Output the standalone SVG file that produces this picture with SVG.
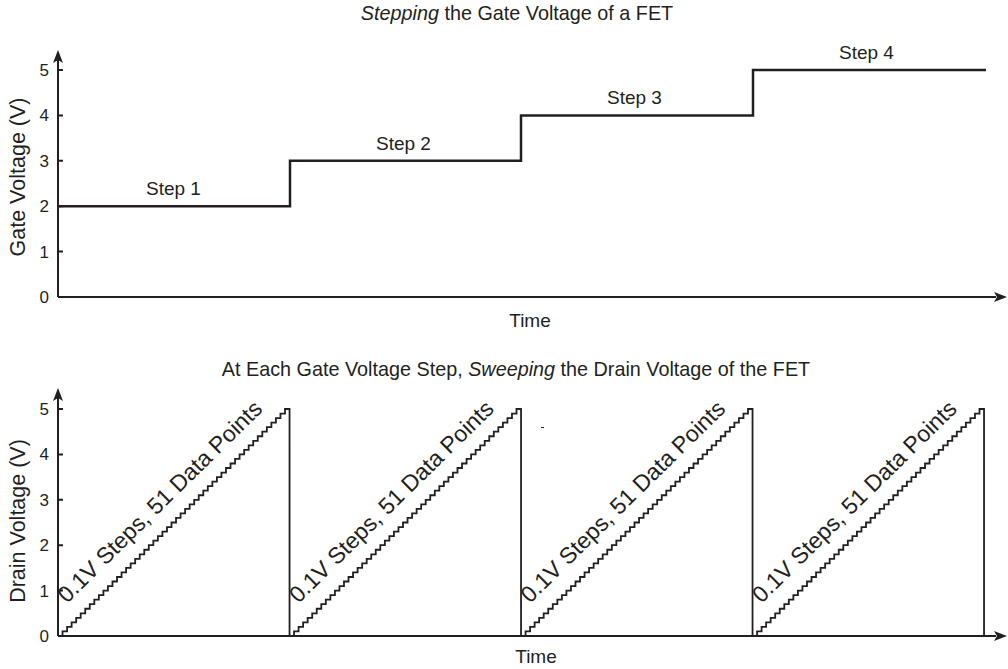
<svg xmlns="http://www.w3.org/2000/svg" xmlns:xlink="http://www.w3.org/1999/xlink" width="1008" height="669" viewBox="0 0 1008 669">
<style>
text{font-family:"Liberation Sans",Arial,sans-serif;fill:#231f20}
.tick{font-size:17px;text-anchor:end}
.lbl{font-size:19px}
.title{font-size:19.8px;text-anchor:middle}
.axlbl{font-size:21.5px;text-anchor:middle}
.diag{font-size:23px}
.axis{stroke:#231f20;stroke-width:2;fill:none}
.tk{stroke:#231f20;stroke-width:2}
.step{stroke:#231f20;stroke-width:2.5;fill:none}
.saw{stroke:#231f20;stroke-width:1.8;fill:none}
.head{fill:#231f20}
</style>
<defs>
<path id="saw" class="saw" d="M0,0 h4.54v-4.54h4.54v-4.54h4.54v-4.54h4.54v-4.54h4.54v-4.54h4.54v-4.54h4.54v-4.54h4.54v-4.54h4.54v-4.54h4.54v-4.54 h4.54v-4.54h4.54v-4.54h4.54v-4.54h4.54v-4.54h4.54v-4.54h4.54v-4.54h4.54v-4.54h4.54v-4.54h4.54v-4.54h4.54v-4.54 h4.54v-4.54h4.54v-4.54h4.54v-4.54h4.54v-4.54h4.54v-4.54h4.54v-4.54h4.54v-4.54h4.54v-4.54h4.54v-4.54h4.54v-4.54 h4.54v-4.54h4.54v-4.54h4.54v-4.54h4.54v-4.54h4.54v-4.54h4.54v-4.54h4.54v-4.54h4.54v-4.54h4.54v-4.54h4.54v-4.54 h4.54v-4.54h4.54v-4.54h4.54v-4.54h4.54v-4.54h4.54v-4.54h4.54v-4.54h4.54v-4.54h4.54v-4.54h4.54v-4.54h4.54v-4.54 h4.54 V0"/>
</defs>

<!-- Top chart -->
<g id="top-chart">
  <text x="517" y="20" class="title"><tspan font-style="italic">Stepping</tspan> the Gate Voltage of a FET</text>
  <g id="top-axes">
    <path class="axis" d="M58,297 V60 M58,297 H996"/>
    <path class="head" d="M58,50 L63,63 L58,60 L53,63 Z"/>
    <path class="head" d="M1007,297 L994,302 L997,297 L994,292 Z"/>
    <path class="tk" d="M58,70 h5 M58,115.4 h5 M58,160.8 h5 M58,206.2 h5 M58,251.6 h5"/>
    <text x="49" y="76" class="tick">5</text>
    <text x="49" y="121" class="tick">4</text>
    <text x="49" y="167" class="tick">3</text>
    <text x="49" y="212" class="tick">2</text>
    <text x="49" y="258" class="tick">1</text>
    <text x="49" y="303" class="tick">0</text>
    <text transform="translate(25,177) rotate(-90)" class="axlbl">Gate Voltage (V)</text>
    <text x="530" y="327" class="lbl" text-anchor="middle">Time</text>
  </g>
  <path id="gate-steps" class="step" d="M58,206.2 H290 V160.8 H521 V115.4 H753 V70 H986"/>
  <text x="146" y="195" class="lbl">Step 1</text>
  <text x="376" y="150" class="lbl">Step 2</text>
  <text x="607" y="104" class="lbl">Step 3</text>
  <text x="839" y="59" class="lbl">Step 4</text>
</g>

<!-- Bottom chart -->
<g id="bottom-chart">
  <text x="516" y="376" class="title">At Each Gate Voltage Step, <tspan font-style="italic">Sweeping</tspan> the Drain Voltage of the FET</text>
  <g id="bottom-axes">
    <path class="axis" d="M58,636 V398 M58,636 H996"/>
    <path class="head" d="M58,388 L63,401 L58,398 L53,401 Z"/>
    <path class="head" d="M1007,636 L994,641 L997,636 L994,631 Z"/>
    <path class="tk" d="M58,409 h5 M58,454.4 h5 M58,499.8 h5 M58,545.2 h5 M58,590.6 h5"/>
    <text x="49" y="415" class="tick">5</text>
    <text x="49" y="460" class="tick">4</text>
    <text x="49" y="506" class="tick">3</text>
    <text x="49" y="551" class="tick">2</text>
    <text x="49" y="597" class="tick">1</text>
    <text x="49" y="642" class="tick">0</text>
    <text transform="translate(25,521) rotate(-90)" class="axlbl">Drain Voltage (V)</text>
    <text x="536" y="663" class="lbl" text-anchor="middle">Time</text>
  </g>
  <g id="sweep-1">
    <use xlink:href="#saw" transform="translate(58,636)"/>
    <text transform="translate(67,604) rotate(-44.6)" class="diag">0.1V Steps, 51 Data Points</text>
  </g>
  <g id="sweep-2">
    <use xlink:href="#saw" transform="translate(289.5,636)"/>
    <text transform="translate(298.5,604) rotate(-44.6)" class="diag">0.1V Steps, 51 Data Points</text>
  </g>
  <g id="sweep-3">
    <use xlink:href="#saw" transform="translate(521,636)"/>
    <text transform="translate(530,604) rotate(-44.6)" class="diag">0.1V Steps, 51 Data Points</text>
  </g>
  <g id="sweep-4">
    <use xlink:href="#saw" transform="translate(752.5,636)"/>
    <text transform="translate(761.5,604) rotate(-44.6)" class="diag">0.1V Steps, 51 Data Points</text>
  </g>
  <path d="M541,427.5 h3" stroke="#231f20" stroke-width="1"/>
</g>
</svg>
